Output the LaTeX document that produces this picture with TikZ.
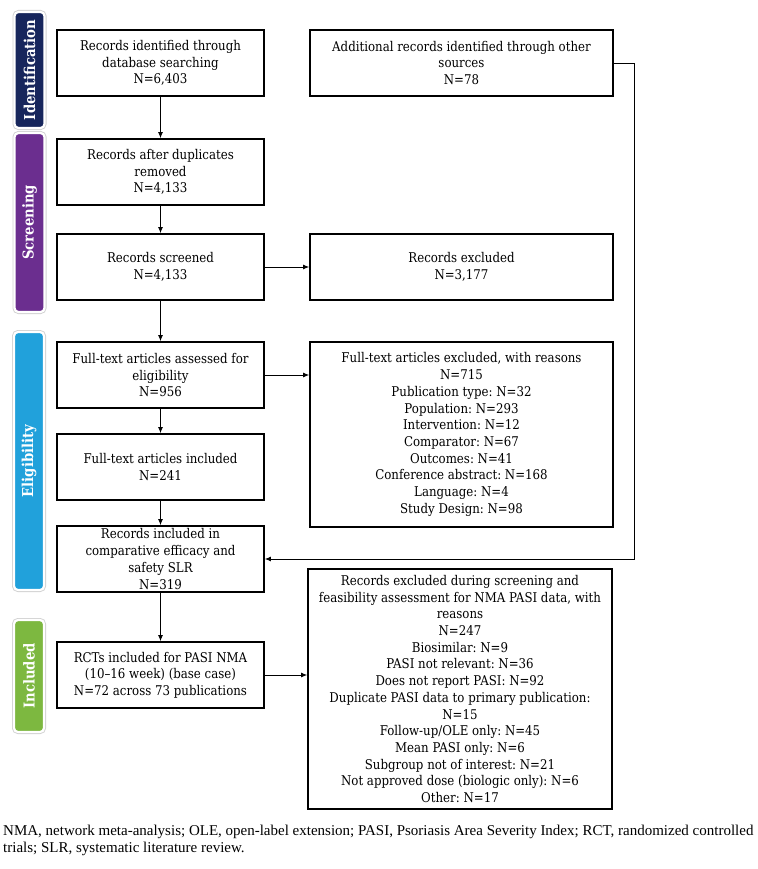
\documentclass[tikz,border=0pt]{standalone}
\usepackage{fontspec}
\usepackage{tikz}
\usetikzlibrary{arrows.meta}
\newfontfamily\flowfont{DejaVu Serif}[FakeStretch=0.88, Ligatures=TeX]
\newfontfamily\notefont{Liberation Serif}
\definecolor{idblue}{rgb}{0.09, 0.15, 0.36}
\definecolor{scpurple}{rgb}{0.42, 0.18, 0.56}
\definecolor{elblue}{rgb}{0.13, 0.63, 0.86}
\definecolor{ingreen}{rgb}{0.49, 0.72, 0.25}
\frenchspacing

\begin{document}
\begin{tikzpicture}[x=1pt, y=-1pt,
    box/.style={draw, line width=1.8pt, align=center, inner sep=1pt,
      font=\flowfont\fontsize{13.4}{16.7}\selectfont},
    leftbox/.style={box, minimum width=207, minimum height=66},
    rightbox/.style={box, minimum width=303},
    tab/.style={rotate=90, rounded corners=4pt, draw=white, line width=2.2pt,
      preaction={draw=black!18, line width=4pt}, minimum height=30,
      text=white, font=\flowfont\bfseries\fontsize{15}{16}\selectfont},
    link/.style={-{Latex[length=6pt, width=5pt]}, line width=0.8pt}]
    \useasboundingbox (0,0) rectangle (757,869);

    % stage tabs
    \node [tab, fill=idblue, minimum width=116] (ident) at (29.5,70) {Identification};
    \node [tab, fill=scpurple, minimum width=179] (screen) at (29.5,222.5) {Screening};
    \node [tab, fill=elblue, minimum width=258] (elig) at (29,461) {Eligibility};
    \node [tab, fill=ingreen, minimum width=112] (incl) at (29,676) {Included};

    % left column
    \node [leftbox] (dbsearch) at (160.5,63) {Records identified through\\database searching\\N=6,403};
    \node [leftbox] (dedup) at (160.5,172) {Records after duplicates\\removed\\N=4,133};
    \node [leftbox] (screened) at (160.5,267) {Records screened\\N=4,133};
    \node [leftbox] (fulltext) at (160.5,375) {Full-text articles assessed for\\eligibility\\N=956};
    \node [leftbox] (ftincl) at (160.5,467) {Full-text articles included\\N=241};
    \node [leftbox] (slr) at (160.5,559) {Records included in\\comparative efficacy and\\safety SLR\\N=319};
    \node [leftbox] (rcts) at (160.5,675) {RCTs included for PASI NMA\\(10–16 week) (base case)\\N=72 across 73 publications};

    % right column
    \node [rightbox, minimum height=66] (other) at (461.5,63) {Additional records identified through other\\sources\\N=78};
    \node [rightbox, minimum height=66] (excl) at (461.5,267) {Records excluded\\N=3,177};
    \node [rightbox, minimum height=185] (ftexcl) at (461.5,434.5) {Full-text articles excluded, with reasons\\N=715\\Publication type: N=32\\Population: N=293\\Intervention: N=12\\Comparator: N=67\\Outcomes: N=41\\Conference abstract: N=168\\Language: N=4\\Study Design: N=98};
    \node [rightbox, minimum width=304, minimum height=240] (pasiexcl) at (460,689) {Records excluded during screening and\\feasibility assessment for NMA PASI data, with\\reasons\\N=247\\Biosimilar: N=9\\PASI not relevant: N=36\\Does not report PASI: N=92\\Duplicate PASI data to primary publication:\\N=15\\Follow-up/OLE only: N=45\\Mean PASI only: N=6\\Subgroup not of interest: N=21\\Not approved dose (biologic only): N=6\\Other: N=17};

    \draw [link] (dbsearch) -- (dedup);
    \draw [link] (dedup) -- (screened);
    \draw [link] (screened) -- (fulltext);
    \draw [link] (fulltext) -- (ftincl);
    \draw [link] (ftincl) -- (slr);
    \draw [link] (slr) -- (rcts);
    \draw [link] (screened) -- (excl);
    \draw [link] (fulltext.east) -- (fulltext.east -| ftexcl.west);
    \draw [link] (rcts.east) -- (rcts.east -| pasiexcl.west);
    \draw [link] (other.east) -- ++(20,0) |- (slr.east);

    \node [anchor=north west, align=left, inner sep=0pt, font=\notefont\fontsize{15}{16.5}\selectfont] (abbrev) at (3,825)
      {NMA, network meta-analysis; OLE, open-label extension; PASI, Psoriasis Area Severity Index; RCT, randomized controlled\\trials; SLR, systematic literature review.};
\end{tikzpicture}
\end{document}
